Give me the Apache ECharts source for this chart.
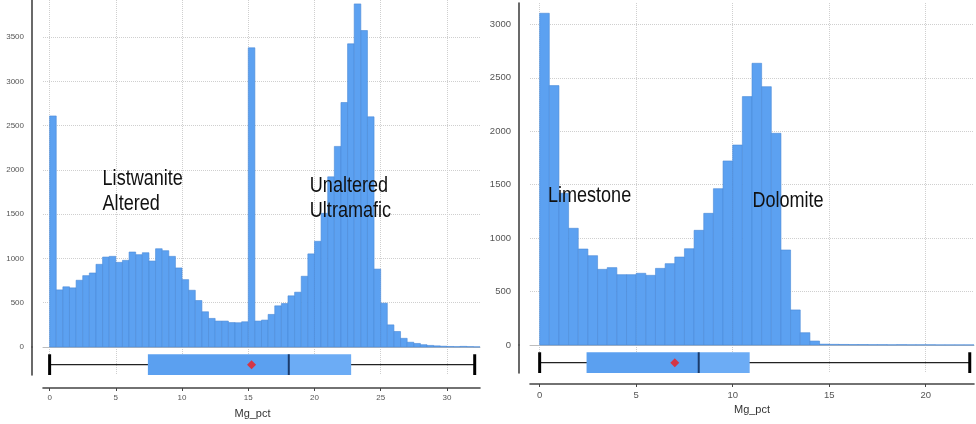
<!DOCTYPE html>
<html>
<head>
<meta charset="utf-8">
<script src="https://cdn.jsdelivr.net/npm/echarts@6/dist/echarts.min.js"></script>
<style>
  html, body { margin: 0; padding: 0; background: #fff; }
  #chart { width: 976px; height: 424px; }
</style>
</head>
<body>
<div id="chart"></div>
<script>
// histogram bins are 0.5 Mg_pct wide, starting at 0
var binWidth = 0.5;

// left panel: listwanite / ultramafic
var leftCounts = [
  2610, 645, 680, 668, 754, 806, 836, 934, 1016, 1024,
  956, 979, 1073, 1043, 1065, 971, 1110, 1088, 1024, 893,
  761, 641, 525, 398, 323, 293, 293, 276, 274, 285,
  3380, 293, 304, 368, 465, 491, 578, 619, 799, 1052,
  1194, 1510, 1922, 2266, 2762, 3425, 3876, 3575, 2600, 880,
  495, 250, 175, 98, 54, 40, 26, 18, 13, 9,
  6, 4, 7, 4, 2
];
// min, q1, median, q3, max
var leftBox = [0, 7.42, 18.06, 22.77, 32.1];
var leftMean = 15.25;
var leftXTicks = [0, 5, 10, 15, 20, 25, 30];
var leftYTicks = [0, 500, 1000, 1500, 2000, 2500, 3000, 3500];
var leftNotes = [
  [4.0, 1761, 'Listwanite\nAltered'],
  [19.65, 1682, 'Unaltered\nUltramafic']
];

// right panel: limestone / dolomite
var rightCounts = [
  3104, 2427, 1420, 1092, 898, 836, 708, 724, 658, 658,
  671, 652, 717, 761, 823, 901, 1073, 1232, 1463, 1722,
  1871, 2324, 2636, 2417, 1981, 889, 328, 115, 37, 8,
  6, 5, 4, 4, 3, 3, 2, 3, 2, 2,
  2, 1, 1, 1, 1
];
var rightBox = [0, 2.43, 8.24, 10.88, 22.28];
var rightMean = 7.0;
var rightXTicks = [0, 5, 10, 15, 20];
var rightYTicks = [0, 500, 1000, 1500, 2000, 2500, 3000];
var rightNotes = [
  [0.43, 1398, 'Limestone'],
  [11.02, 1347, 'Dolomite']
];

var barFill = '#5ca1f1';
var barEdge = '#4a89d6';
var gridColor = '#cfcfcf';
var labelFont = 'Liberation Sans';

function plain(v) { return String(v); }

function histSeries(counts, idx) {
  return {
    type: 'custom',
    xAxisIndex: idx, yAxisIndex: idx,
    data: counts.map(function (c, i) { return [i * binWidth, (i + 1) * binWidth, c]; }),
    encode: { x: [0, 1], y: 2 },
    renderItem: function (params, api) {
      var top = api.coord([api.value(0), api.value(2)]);
      var bot = api.coord([api.value(1), 0]);
      return {
        type: 'rect',
        shape: { x: top[0], y: top[1], width: bot[0] - top[0], height: bot[1] - top[1] },
        style: { fill: barFill, stroke: barEdge, lineWidth: 0.6 }
      };
    },
    silent: true, z: 3
  };
}

// annotation text is condensed (narrow face not installed, so squeeze it)
function noteSeries(notes, idx) {
  return {
    type: 'custom',
    xAxisIndex: idx, yAxisIndex: idx,
    data: notes,
    encode: { x: 0, y: 1 },
    renderItem: function (params, api) {
      var p = api.coord([api.value(0), api.value(1)]);
      return {
        type: 'text', x: p[0], y: p[1], scaleX: 0.82,
        style: {
          text: notes[params.dataIndex][2],
          fill: '#111', fontSize: 22, fontFamily: labelFont,
          lineHeight: 25, align: 'left', verticalAlign: 'middle'
        }
      };
    },
    silent: true, z: 10
  };
}

function boxSeries(stats, idx) {
  return {
    type: 'custom',
    xAxisIndex: idx, yAxisIndex: idx,
    data: [stats],
    encode: { x: [0, 1, 2, 3, 4] },
    renderItem: function (params, api) {
      var lo = api.coord([api.value(0), 0]);
      var q1 = api.coord([api.value(1), 1]);
      var md = api.coord([api.value(2), 0]);
      var q3 = api.coord([api.value(3), 0]);
      var hi = api.coord([api.value(4), 0]);
      var mid = api.coord([0, 0.5])[1];
      var y0 = lo[1], y1 = q1[1];
      return {
        type: 'group',
        children: [
          { type: 'line', shape: { x1: lo[0], y1: mid, x2: hi[0], y2: mid }, style: { stroke: '#222', lineWidth: 1.4 } },
          { type: 'line', shape: { x1: lo[0], y1: y0, x2: lo[0], y2: y1 }, style: { stroke: '#000', lineWidth: 3 } },
          { type: 'line', shape: { x1: hi[0], y1: y0, x2: hi[0], y2: y1 }, style: { stroke: '#000', lineWidth: 3 } },
          { type: 'rect', shape: { x: q1[0], y: y1, width: md[0] - q1[0], height: y0 - y1 }, style: { fill: '#5ba0f0' } },
          { type: 'rect', shape: { x: md[0], y: y1, width: q3[0] - md[0], height: y0 - y1 }, style: { fill: '#6cacf5' } },
          { type: 'line', shape: { x1: md[0], y1: y0, x2: md[0], y2: y1 }, style: { stroke: '#1b3b6b', lineWidth: 2 } }
        ]
      };
    },
    silent: true, z: 3
  };
}

function meanSeries(mean, idx) {
  return {
    type: 'scatter', xAxisIndex: idx, yAxisIndex: idx,
    data: [[mean, 0.5]], symbol: 'diamond', symbolSize: 9,
    itemStyle: { color: '#f21c1c' }, silent: true, z: 5
  };
}

function histX(range, ticks) {
  return {
    type: 'value', min: range[0], max: range[1],
    axisLine: { show: true, onZero: false, lineStyle: { color: '#bdbdbd', width: 1 } },
    axisTick: { show: false, customValues: ticks },
    axisLabel: { show: false },
    splitLine: { show: true, lineStyle: { color: gridColor, type: 'dotted' } }
  };
}

function boxX(range, ticks, offset, fs, namePad) {
  return {
    type: 'value', min: range[0], max: range[1], position: 'bottom', offset: offset,
    name: 'Mg_pct', nameLocation: 'middle', nameGap: 20,
    nameTextStyle: { color: '#333', fontSize: 11, fontFamily: labelFont, padding: namePad },
    axisLine: { show: true, onZero: false, lineStyle: { color: '#444', width: 1.6 } },
    axisTick: { show: true, length: 3, customValues: ticks, lineStyle: { color: '#444' } },
    axisLabel: { customValues: ticks, formatter: plain, color: '#555', fontSize: fs, margin: 6, fontFamily: labelFont },
    splitLine: { show: true, lineStyle: { color: gridColor, type: 'dotted' } }
  };
}

function histY(max, ticks, fs) {
  return {
    type: 'value', min: 0, max: max, offset: 11, position: 'left',
    axisLine: { show: true, onZero: false, lineStyle: { color: '#444', width: 1.6 } },
    axisTick: { show: false, customValues: ticks },
    axisLabel: { customValues: ticks, formatter: plain, color: '#555', fontSize: fs, margin: 8, fontFamily: labelFont },
    splitLine: { show: true, lineStyle: { color: gridColor, type: 'dotted' } }
  };
}

function boxY() {
  return {
    type: 'value', min: 0, max: 1.35, offset: 11, position: 'left',
    axisLine: { show: true, onZero: false, lineStyle: { color: '#444', width: 1.6 } },
    axisTick: { show: false }, axisLabel: { show: false }, splitLine: { show: false }
  };
}

var chart = echarts.init(document.getElementById('chart'), null, { renderer: 'canvas' });
chart.setOption({
  backgroundColor: '#fff',
  animation: false,
  grid: [
    { left: 43, right: 496, top: 0, height: 347 },
    { left: 43, right: 496, top: 347, height: 28 },
    { left: 530, right: 2, top: 3, height: 342 },
    { left: 530, right: 2, top: 345, height: 28 }
  ],
  xAxis: [
    Object.assign(histX([-0.5, 32.5], leftXTicks), { gridIndex: 0 }),
    Object.assign(boxX([-0.5, 32.5], leftXTicks, 13, 8, [0, 18, 0, 0]), { gridIndex: 1 }),
    Object.assign(histX([-0.5, 22.5], rightXTicks), { gridIndex: 2 }),
    Object.assign(boxX([-0.5, 22.5], rightXTicks, 11, 9.5, [0, 0, 0, 0]), { gridIndex: 3 })
  ],
  yAxis: [
    Object.assign(histY(3920, leftYTicks, 8), { gridIndex: 0 }),
    Object.assign(boxY(), { gridIndex: 1 }),
    Object.assign(histY(3200, rightYTicks, 9.5), { gridIndex: 2 }),
    Object.assign(boxY(), { gridIndex: 3 })
  ],
  series: [
    histSeries(leftCounts, 0),
    noteSeries(leftNotes, 0),
    boxSeries(leftBox, 1),
    meanSeries(leftMean, 1),
    histSeries(rightCounts, 2),
    noteSeries(rightNotes, 2),
    boxSeries(rightBox, 3),
    meanSeries(rightMean, 3)
  ]
});
window.addEventListener('resize', function () {
  chart.resize();
});
</script>
</body>
</html>
